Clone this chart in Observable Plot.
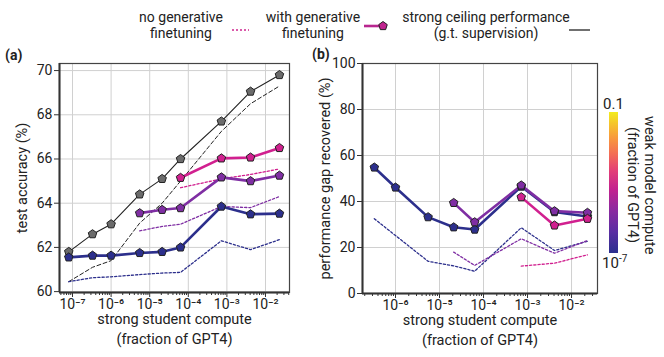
<!DOCTYPE html>
<html>
<head>
<meta charset="utf-8">
<script src="https://cdn.jsdelivr.net/npm/d3@7"></script>
<script src="https://cdn.jsdelivr.net/npm/@observablehq/plot@0.6"></script>
<style>
  html, body { margin: 0; padding: 0; background: #fff; }
  body { font-family: Roboto, "Noto Sans", sans-serif; color: #222; }
  #root { position: relative; width: 664px; height: 357px; overflow: hidden; }
  .abs { position: absolute; }
  .leg { position: absolute; font-size: 14px; line-height: 16px; text-align: center; white-space: nowrap; transform: translateX(-50%); }
  .plab { position: absolute; font-size: 14px; font-weight: bold; }
  svg { overflow: visible; }
</style>
</head>
<body>
<div id="root">
  <div class="leg" style="left:181px; top:9px;">no generative<br>finetuning</div>
  <svg class="abs" style="left:230px; top:24px;" width="22" height="12"><line x1="2" x2="19" y1="6" y2="6" stroke="#d0258f" stroke-width="1.3" stroke-dasharray="2,2"/></svg>
  <div class="leg" style="left:313px; top:9px;">with generative<br>finetuning</div>
  <svg class="abs" style="left:362px; top:16px;" width="30" height="20" id="legmark"></svg>
  <div class="leg" style="left:486px; top:9px;">strong ceiling performance<br>(g.t. supervision)</div>
  <svg class="abs" style="left:566px; top:24px;" width="28" height="12"><line x1="3" x2="24" y1="6" y2="6" stroke="#111" stroke-width="1.2"/></svg>
  <div class="plab" style="left:5px; top:47px;">(a)</div>
  <div class="plab" style="left:312px; top:46px;">(b)</div>
  <div id="pa" class="abs" style="left:0px; top:50px;"></div>
  <div id="pb" class="abs" style="left:310px; top:50px;"></div>
  <div class="abs" style="left:609px; top:112px; width:9px; height:141px; background: linear-gradient(to top, #2b2f8e 0%, #5a2ea3 15%, #8a2aa0 30%, #c2228f 45%, #e23d78 58%, #f36c55 70%, #f89a3c 82%, #f5c62a 92%, #f2ec1e 100%);"></div>
  <div class="abs" style="left:603px; top:95px; font-size:15px;">0.1</div>
  <div class="abs" style="left:602px; top:253px; font-size:15px;">10<sup style="font-size:10px;">-7</sup></div>
  <div class="abs" style="left:624px; top:112px; height:146px; writing-mode: vertical-rl; font-size:14.5px; line-height:17px; text-align:center; white-space:nowrap;">weak model compute<br>(fraction of GPT4)</div>
</div>
<script>
// ---------------- data ----------------
const compute = [8e-8, 3.3e-7, 1e-6, 5.5e-6, 2.1e-5, 6.3e-5, 7.2e-4, 4.1e-3, 2.3e-2];

// panel (a): test accuracy (%)
const ceilingGen   = [61.8, 62.6, 63.05, 64.4, 65.1, 66.0, 67.7, 69.05, 69.8];
const ceilingNoGen = [60.45, 61.1, 61.4, 63.1, 64.0, 65.0, 67.25, 68.5, 69.3];
const accGenBlue     = [61.55, 61.63, 61.63, 61.75, 61.8, 62.0, 63.85, 63.5, 63.53];
const accNoGenBlue   = [60.45, 60.63, 60.67, 60.77, 60.84, 60.87, 62.3, 61.9, 62.35];
const accGenPurple   = [null, null, null, 63.55, 63.7, 63.78, 65.17, 65.0, 65.25];
const accNoGenPurple = [null, null, null, 62.75, 62.95, 63.05, 63.85, 63.8, 64.3];
const accGenPink     = [null, null, null, null, null, 65.15, 66.03, 66.07, 66.5];
const accNoGenPink   = [null, null, null, null, null, 64.7, 65.1, 65.3, 65.55];

// panel (b): performance gap recovered (%)
const pgrGenBlue     = [null, 54.8, 46.1, 33.2, 28.8, 27.8, 46.5, 35.4, 33.5];
const pgrNoGenBlue   = [null, 32.5, 25.2, 14.0, 12.0, 9.7, 28.6, 18.7, 22.7];
const pgrGenPurple   = [null, null, null, null, 39.4, 31.0, 47.0, 35.8, 35.1];
const pgrNoGenPurple = [null, null, null, null, 18.0, 12.2, 23.8, 17.5, 23.0];
const pgrGenPink     = [null, null, null, null, null, null, 41.9, 29.6, 32.5];
const pgrNoGenPink   = [null, null, null, null, null, null, 11.9, 13.2, 16.8];

const colBlue = "#2c2f8c", colPurple = "#7f2ea3", colPink = "#d1208f";

const xTicksA = [1e-7, 1e-6, 1e-5, 1e-4, 1e-3, 1e-2];
const xTicksB = [1e-6, 1e-5, 1e-4, 1e-3, 1e-2];
const yTicksA = [60, 62, 64, 66, 68, 70];
const yTicksB = [0, 20, 40, 60, 80, 100];

// ---------------- helpers ----------------
const pentagon = {
  draw(context, size) {
    const r = Math.sqrt(size / 2.378);
    for (let i = 0; i < 5; i++) {
      const a = -Math.PI / 2 + i * 2 * Math.PI / 5;
      const x = r * Math.cos(a), y = r * Math.sin(a);
      if (i) context.lineTo(x, y); else context.moveTo(x, y);
    }
    context.closePath();
  }
};
const MR = 3.9;
const rows = (vals) => compute.map((x, i) => ({x, y: vals[i]})).filter(d => d.y != null);
const supMap = {"-": "\u207B", "0": "\u2070", "1": "\u00B9", "2": "\u00B2", "3": "\u00B3", "4": "\u2074", "5": "\u2075", "6": "\u2076", "7": "\u2077", "8": "\u2078", "9": "\u2079"};
const supFmt = (v) => "10" + String(Math.round(Math.log10(v))).split("").map(c => supMap[c]).join("");
function minorTicks(lo, hi) {
  const out = [];
  for (let k = -9; k <= 0; k++) for (let m = 2; m <= 9; m++) {
    const v = m * Math.pow(10, k);
    if (v > lo && v < hi) out.push(v);
  }
  return out;
}

function panel({width, height, marginLeft, marginRight, marginTop, marginBottom, xDomain, yDomain, xTicks, yTicks, ytitle, lines, dotted, solids}) {
  const marks = [
    Plot.gridX(xTicks, {stroke: "#d0d0d0", strokeOpacity: 1, strokeWidth: 1}),
    Plot.gridY(yTicks, {stroke: "#d0d0d0", strokeOpacity: 1, strokeWidth: 1}),
    Plot.frame({stroke: "#444", strokeWidth: 1.2}),
    Plot.ruleX([xDomain[0]], {stroke: "#333", strokeWidth: 2}),
    Plot.ruleY([yDomain[0]], {stroke: "#333", strokeWidth: 2}),
    Plot.axisX(xTicks, {tickSize: 5, tickPadding: 2, tickFormat: supFmt, fontSize: 14, stroke: "#333", label: null}),
    Plot.axisX(minorTicks(xDomain[0], xDomain[1]), {tickSize: 3, tickFormat: () => "", stroke: "#333", label: null}),
    Plot.axisY(yTicks, {tickSize: 5, tickPadding: 2, fontSize: 14, stroke: "#333", label: null}),
    Plot.text(["strong student compute\n(fraction of GPT4)"], {text: d => d, frameAnchor: "bottom", dy: 18, lineAnchor: "top", lineHeight: 1.35, fontSize: 14.5, fill: "#222"}),
    Plot.text([ytitle], {text: d => d, frameAnchor: "left", textAnchor: "middle", rotate: -90, dx: -37, fontSize: 14.5, fill: "#222"})
  ];
  for (const s of lines) marks.push(Plot.line(rows(s.vals), {x: "x", y: "y", stroke: s.color, strokeWidth: s.w, strokeDasharray: s.dash}));
  for (const s of dotted) marks.push(Plot.line(rows(s.vals), {x: "x", y: "y", stroke: s.color, strokeWidth: 1.3, strokeDasharray: "2.2,2"}));
  for (const s of solids) {
    marks.push(Plot.line(rows(s.vals), {x: "x", y: "y", stroke: s.color, strokeWidth: s.w || 2.6}));
  }
  for (const s of solids) {
    marks.push(Plot.dot(rows(s.vals), {x: "x", y: "y", fill: s.fill || s.color, stroke: "#222", strokeWidth: 1, r: MR, symbol: pentagon}));
  }
  return Plot.plot({
    width, height, marginLeft, marginRight, marginTop, marginBottom,
    style: {fontFamily: "Roboto, sans-serif", fontSize: "14px", color: "#222", background: "transparent", overflow: "visible"},
    x: {type: "log", domain: xDomain},
    y: {domain: yDomain},
    marks
  });
}

const pa = panel({
  width: 310, height: 300, marginLeft: 59, marginRight: 21, marginTop: 13, marginBottom: 58,
  xDomain: [Math.pow(10, -7.337), Math.pow(10, -1.378)], yDomain: [59.96, 70.32],
  xTicks: xTicksA, yTicks: yTicksA, ytitle: "test accuracy (%)",
  lines: [{vals: ceilingNoGen, color: "#222", w: 1, dash: "4,2.5"}],
  dotted: [{vals: accNoGenBlue, color: colBlue}, {vals: accNoGenPurple, color: colPurple}, {vals: accNoGenPink, color: colPink}],
  solids: [{vals: ceilingGen, color: "#222", fill: "#6b6b6b", w: 1.1}, {vals: accGenBlue, color: colBlue}, {vals: accGenPurple, color: colPurple}, {vals: accGenPink, color: colPink}]
});
document.getElementById("pa").append(pa);

const pb = panel({
  width: 354, height: 300, marginLeft: 52, marginRight: 67, marginTop: 13, marginBottom: 57,
  xDomain: [Math.pow(10, -6.75), Math.pow(10, -1.41)], yDomain: [0, 100],
  xTicks: xTicksB, yTicks: yTicksB, ytitle: "performance gap recovered (%)",
  lines: [],
  dotted: [{vals: pgrNoGenBlue, color: colBlue}, {vals: pgrNoGenPurple, color: colPurple}, {vals: pgrNoGenPink, color: colPink}],
  solids: [{vals: pgrGenBlue, color: colBlue}, {vals: pgrGenPurple, color: colPurple}, {vals: pgrGenPink, color: colPink}]
});
document.getElementById("pb").append(pb);

// legend marker (line + pentagon)
const lm = d3.select("#legmark");
lm.append("line").attr("x1", 2).attr("x2", 18).attr("y1", 10).attr("y2", 10).attr("stroke", "#b8268f").attr("stroke-width", 2.6);
lm.append("path").attr("transform", "translate(21,10)").attr("d", d3.symbol(pentagon, MR * MR * Math.PI)()).attr("fill", "#c0248f").attr("stroke", "#222").attr("stroke-width", 1);
</script>
</body>
</html>
